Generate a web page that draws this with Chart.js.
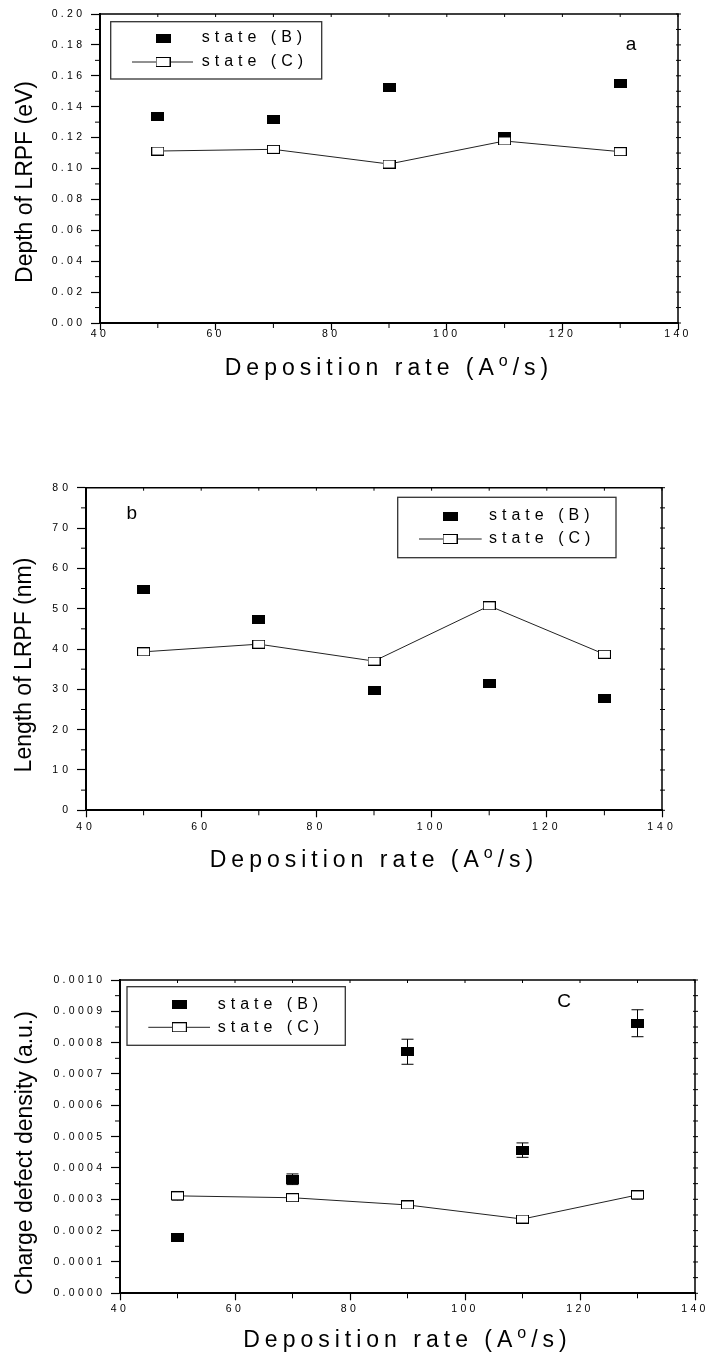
<!DOCTYPE html>
<html>
<head>
<meta charset="utf-8">
<script src="https://cdn.jsdelivr.net/npm/chart.js@4.4.1/dist/chart.umd.min.js"></script>
<style>
  body { margin: 0; background: #fff; width: 708px; height: 1357px; position: relative; overflow: hidden; }
  canvas { position: absolute; left: 0; }
</style>
</head>
<body>
<canvas id="chartA"></canvas>
<canvas id="chartB"></canvas>
<canvas id="chartC"></canvas>
<script>
// deposition rates (A°/s)
const rates = [50, 70, 90, 110, 130];
const seriesNames = ['state (B)', 'state (C)'];

// panel a: depth of LRPF (eV)
const depthB = [0.1335, 0.1314, 0.1523, 0.1204, 0.155];
const depthC = [0.1113, 0.1124, 0.1029, 0.1178, 0.1109];

// panel b: length of LRPF (nm)
const lengthB = [54.8, 47.2, 29.8, 31.5, 27.8];
const lengthC = [39.3, 41.2, 37.0, 50.7, 38.7];

// panel c: charge defect density (a.u.) with error bars
const densityB = [0.000178, 0.000364, 0.000771, 0.000457, 0.000862];
const densityC = [0.000311, 0.000305, 0.000282, 0.000237, 0.000314];
const densityErrB = [0.000012, 0.000017, 0.00004, 0.000023, 0.000043];
const densityErrC = [0.000014, 0.000012, 0.00001, 0.00001, 0.000014];

const xRange = { min: 40, max: 140, step: 20, minor: 10 };

const FONT = '"Liberation Sans", Arial, Helvetica, sans-serif';

function boxMarker(filled, w, h) {
  const c = document.createElement('canvas');
  c.width = w; c.height = h;
  const g = c.getContext('2d');
  g.fillStyle = '#000';
  g.fillRect(0, 0, w, h);
  if (!filled) {
    g.fillStyle = '#fff';
    g.fillRect(1, 1, w - 2, h - 2);
  }
  return c;
}
const solidMark = boxMarker(true, 13, 9);
const openMark = boxMarker(false, 13, 9);
const legendSolid = boxMarker(true, 15, 9);
const legendOpen = boxMarker(false, 15, 10);

const panels = [
  {
    id: 'chartA', top: 0, height: 400,
    area: { left: 100, top: 14, right: 678, bottom: 323 },
    y: { min: 0, max: 0.2, step: 0.02, minor: 0.01, decimals: 2 },
    b: depthB, c: depthC,
    tickSpacing: 3.3, xPad: -2.5,
    yTitle: { text: 'Depth of LRPF (eV)', x: 32, y: 182 },
    xTitleBase: 375,
    tag: { text: 'a', x: 631, y: 45 },
    legend: { x: 110.7, y: 21.7, w: 211, h: 57.3, mark: 163, line: [132, 193], text: 201.7, rowB: 38, rowC: 62 }
  },
  {
    id: 'chartB', top: 440, height: 440,
    area: { left: 86, top: 47.7, right: 662, bottom: 370.3 },
    y: { min: 0, max: 80, step: 10, minor: 5, decimals: 0 },
    b: lengthB, c: lengthC,
    tickSpacing: 4, xPad: 4,
    yTitle: { text: 'Length of LRPF (nm)', x: 30.7, y: 225 },
    xTitleBase: 426.7,
    tag: { text: 'b', x: 131.7, y: 74 },
    legend: { x: 397.7, y: 57.3, w: 218.3, h: 60.4, mark: 450, line: [419, 481.7], text: 489, rowB: 76, rowC: 99 }
  },
  {
    id: 'chartC', top: 940, height: 417,
    area: { left: 120, top: 40, right: 695, bottom: 353.3 },
    y: { min: 0, max: 0.001, step: 0.0001, minor: 0.00005, decimals: 4 },
    b: densityB, c: densityC, errB: densityErrB, errC: densityErrC,
    tickSpacing: 3.3, xPad: 3,
    yTitle: { text: 'Charge defect density (a.u.)', x: 31.7, y: 213 },
    xTitleBase: 407.3,
    tag: { text: 'C', x: 564, y: 61.7 },
    legend: { x: 127, y: 46.7, w: 218.3, h: 58.6, mark: 179.3, line: [148.3, 210], text: 217.7, rowB: 64.3, rowC: 87.3 }
  }
];

function decor(p) {
  return {
    id: 'decor',
    beforeDraw(chart) {
      chart.ctx.letterSpacing = p.tickSpacing + 'px';
    },
    beforeDatasetsDraw(chart) {
      const ctx = chart.ctx;
      const { left, right, top, bottom } = chart.chartArea;
      const xs = chart.scales.x, ys = chart.scales.y;
      ctx.save();
      ctx.strokeStyle = '#000';
      ctx.lineWidth = 1.5;
      ctx.beginPath();
      ctx.moveTo(left, top);
      ctx.lineTo(right, top);
      ctx.lineTo(right, bottom);
      ctx.stroke();

      // minor ticks + ticks on the top / right frame
      ctx.lineWidth = 1;
      ctx.beginPath();
      const ny = Math.round((p.y.max - p.y.min) / p.y.minor);
      for (let i = 0; i <= ny; i++) {
        const y = ys.getPixelForValue(p.y.min + i * p.y.minor);
        if (i % 2) { ctx.moveTo(left - 5, y); ctx.lineTo(left, y); }
        ctx.moveTo(right - 2, y); ctx.lineTo(right + 3, y);
      }
      const nx = Math.round((xRange.max - xRange.min) / xRange.minor);
      for (let i = 0; i <= nx; i++) {
        const x = xs.getPixelForValue(xRange.min + i * xRange.minor);
        if (i % 2) { ctx.moveTo(x, bottom); ctx.lineTo(x, bottom + 5); }
        ctx.moveTo(x, top); ctx.lineTo(x, top + 3);
      }
      ctx.stroke();

      // error bars
      if (p.errB) {
        ctx.beginPath();
        [[p.b, p.errB], [p.c, p.errC]].forEach(([vals, errs]) => {
          vals.forEach((v, i) => {
            const x = xs.getPixelForValue(rates[i]);
            const y1 = ys.getPixelForValue(v + errs[i]);
            const y2 = ys.getPixelForValue(v - errs[i]);
            ctx.moveTo(x, y1); ctx.lineTo(x, y2);
            ctx.moveTo(x - 6, y1); ctx.lineTo(x + 6, y1);
            ctx.moveTo(x - 6, y2); ctx.lineTo(x + 6, y2);
          });
        });
        ctx.stroke();
      }
      ctx.restore();
    },
    afterDraw(chart) {
      const ctx = chart.ctx;
      const { left, right } = chart.chartArea;
      ctx.save();
      ctx.letterSpacing = '0px';
      ctx.fillStyle = '#000';

      // y title
      ctx.save();
      ctx.font = '23px ' + FONT;
      ctx.translate(p.yTitle.x, p.yTitle.y);
      ctx.rotate(-Math.PI / 2);
      ctx.textAlign = 'center';
      ctx.textBaseline = 'alphabetic';
      ctx.fillText(p.yTitle.text, 0, 0);
      ctx.restore();

      // x title with superscript o
      ctx.textAlign = 'left';
      ctx.textBaseline = 'alphabetic';
      ctx.letterSpacing = '5px';
      const s1 = 'Deposition rate (A', s2 = 'o', s3 = '/s)';
      ctx.font = '23px ' + FONT;
      const w1 = ctx.measureText(s1).width, w3 = ctx.measureText(s3).width;
      ctx.font = '16px ' + FONT;
      const w2 = ctx.measureText(s2).width;
      let x0 = (left + right) / 2 - (w1 + w2 + w3) / 2;
      ctx.font = '23px ' + FONT;
      ctx.fillText(s1, x0, p.xTitleBase);
      x0 += w1;
      ctx.font = '16px ' + FONT;
      ctx.fillText(s2, x0, p.xTitleBase - 9);
      x0 += w2;
      ctx.font = '23px ' + FONT;
      ctx.fillText(s3, x0, p.xTitleBase);

      // panel tag
      ctx.letterSpacing = '0px';
      ctx.font = '19px ' + FONT;
      ctx.textAlign = 'center';
      ctx.textBaseline = 'middle';
      ctx.fillText(p.tag.text, p.tag.x, p.tag.y);

      // legend
      const L = p.legend;
      ctx.strokeStyle = '#333';
      ctx.lineWidth = 1.3;
      ctx.strokeRect(L.x, L.y, L.w, L.h);
      ctx.drawImage(legendSolid, L.mark - 7.5, L.rowB - 4.5);
      ctx.strokeStyle = '#222';
      ctx.lineWidth = 1;
      ctx.beginPath();
      ctx.moveTo(L.line[0], L.rowC);
      ctx.lineTo(L.line[1], L.rowC);
      ctx.stroke();
      ctx.drawImage(legendOpen, L.mark - 7.5, L.rowC - 5);
      ctx.font = '16px ' + FONT;
      ctx.letterSpacing = '5px';
      ctx.textAlign = 'left';
      ctx.fillText(seriesNames[0], L.text, L.rowB);
      ctx.fillText(seriesNames[1], L.text, L.rowC);
      ctx.restore();
    }
  };
}

function drawPanel(p) {
  const canvas = document.getElementById(p.id);
  const W = 708, H = p.height, a = p.area;
  canvas.width = W; canvas.height = H;
  canvas.style.width = W + 'px'; canvas.style.height = H + 'px';
  canvas.style.top = p.top + 'px';

  const tickFont = { family: FONT, size: 10.5 };
  new Chart(canvas, {
    type: 'line',
    data: {
      datasets: [
        {
          label: seriesNames[1],
          data: p.c.map((v, i) => ({ x: rates[i], y: v })),
          borderColor: '#222', borderWidth: 1, tension: 0,
          pointStyle: openMark, pointRadius: 6, order: 1
        },
        {
          label: seriesNames[0],
          data: p.b.map((v, i) => ({ x: rates[i], y: v })),
          showLine: false,
          pointStyle: solidMark, pointRadius: 6, order: 2
        }
      ]
    },
    options: {
      responsive: false,
      animation: false,
      events: [],
      layout: { padding: { left: 0, bottom: 0, top: a.top, right: W - a.right } },
      plugins: { legend: { display: false }, tooltip: { enabled: false } },
      scales: {
        x: {
          type: 'linear',
          min: xRange.min, max: xRange.max,
          afterFit: s => { s.height = H - a.bottom; },
          ticks: { stepSize: xRange.step, autoSkip: false, maxRotation: 0, color: '#000', font: tickFont, padding: p.xPad },
          grid: { drawOnChartArea: false, drawTicks: true, tickLength: 7, tickColor: '#000', tickWidth: 1.2 },
          border: { display: true, color: '#000', width: 2 }
        },
        y: {
          type: 'linear',
          min: p.y.min, max: p.y.max,
          afterFit: s => { s.width = a.left; },
          ticks: {
            stepSize: p.y.step, autoSkip: false, color: '#000', font: tickFont,
            padding: 18 - 9 - p.tickSpacing,
            callback: v => v.toFixed(p.y.decimals)
          },
          grid: { drawOnChartArea: false, drawTicks: true, tickLength: 9, tickColor: '#000', tickWidth: 1.2 },
          border: { display: true, color: '#000', width: 2 }
        }
      }
    },
    plugins: [decor(p)]
  });
}

panels.forEach(drawPanel);
</script>
</body>
</html>
